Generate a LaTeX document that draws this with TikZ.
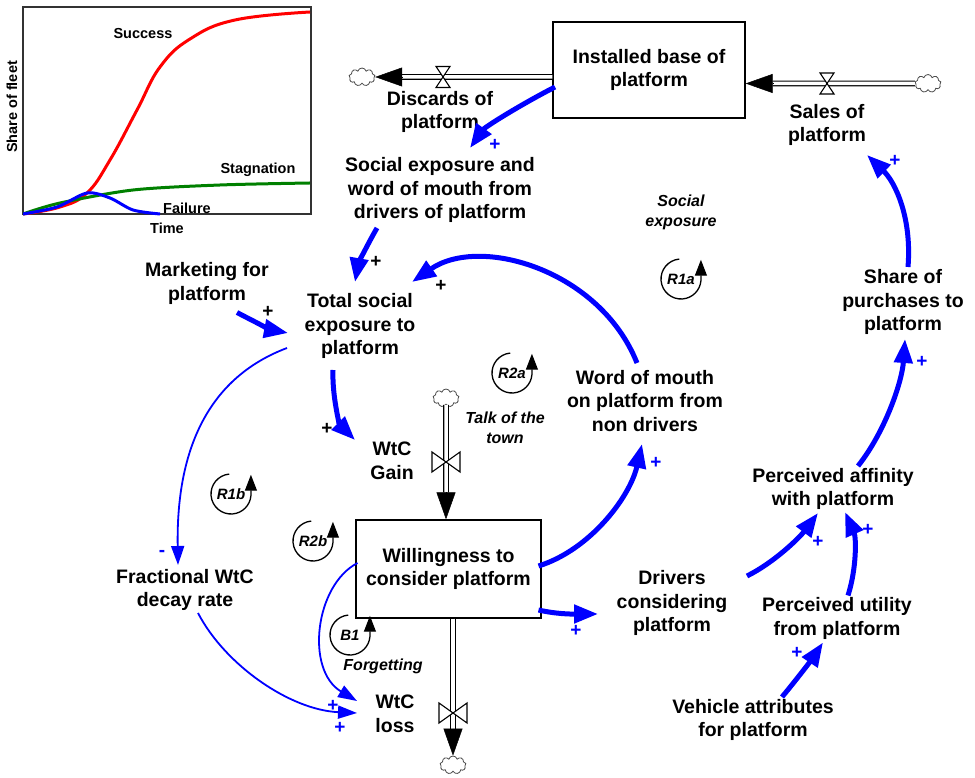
\documentclass[tikz,border=0pt]{standalone}
\usepackage{fontspec}
\setmainfont{Liberation Sans}
\usetikzlibrary{arrows.meta,calc,positioning,shapes.symbols}

\begin{document}
\begin{tikzpicture}[
x=1pt,y=1pt,
var/.style={align=center,inner sep=2pt,font=\bfseries\fontsize{19.5}{23.5}\selectfont},
stock/.style={var,draw,line width=1.3pt,minimum width=192pt,minimum height=96pt},
note/.style={align=center,font=\bfseries\itshape\fontsize{16}{20}\selectfont},
small/.style={font=\bfseries\fontsize{14.5}{17}\selectfont},
sign/.style={inner sep=0pt,font=\bfseries\fontsize{19}{19}\selectfont},
link/.style={blue,line width=5pt,-{Triangle[length=24pt,width=18pt]}},
thinlink/.style={blue,line width=1.8pt,-{Triangle[length=19pt,width=13pt]}},
pipe/.style={double,double distance=3.5pt,line width=1.2pt},
pipetip/.style={line width=0.5pt,-{Triangle[length=27pt,width=19pt]}},
sink/.style={cloud,cloud puffs=9,draw=black!70,line width=0.8pt,fill=white,minimum width=26pt,minimum height=18pt,inner sep=0pt},
hvalve/.pic={\draw[line width=1.1pt,fill=white] (-7,10.5) -- (7,10.5) -- (-7,-10.5) -- (7,-10.5) -- cycle;},
vvalve/.pic={\draw[line width=1.1pt,fill=white] (-14,10) -- (-14,-10) -- (14,10) -- (14,-10) -- cycle;},
loopsign/.pic={
  \draw[line width=1.3pt,-{Triangle[length=16pt,width=12pt]}] (95:20) arc[start angle=95,end angle=355,radius=20pt] -- ++(0,21);
  \node[font=\bfseries\itshape\fontsize{15}{15}\selectfont] (-lbl) {#1};},
]
\useasboundingbox (0,0) rectangle (975,777);

% inset
\draw[line width=1.5pt,black!80] (23,563) rectangle (311,770);
\draw[red,line width=3pt] plot[smooth,tension=0.7] coordinates {(23,563) (60,570) (87,584) (110,617) (137,667) (160,710) (190,738) (235,757) (310,765)};
\draw[green!50!black,line width=3pt] plot[smooth] coordinates {(23,563) (60,574) (133,587) (220,592) (310,594)};
\draw[blue,line width=3pt] plot[smooth] coordinates {(23,563) (57,570) (87,584) (110,579) (133,567) (160,563)};
\node[small] (succ) at (143,743) {Success};
\node[small] (stag) at (258,607) {Stagnation};
\node[small] (fail) at (187,569) {Failure};
\node[small] (time) at (167,549) {Time};
\node[small,rotate=90] (fleet) at (12,670) {Share of fleet};

% stocks
\node[stock] (ib) at (649,707) {Installed base of\\platform};
\node[stock,minimum width=185pt,minimum height=98pt] (wp) at (448.5,208) {Willingness to\\consider platform};

% sources and sinks
\node[sink] (cL) at (362,700) {};
\node[sink] (cR) at (928,693.5) {};
\node[sink] (cT) at (446,379) {};
\node[sink] (cB) at (453,12) {};

% flows
\draw[pipe] ($(ib.west)+(0,-7)$) -- ($(cL.east)+(27,0)$);
\draw[pipetip] ($(cL.east)+(27,0)$) -- (cL.east);
\draw[pipe] (cR.west) -- ($(ib.east)+(27,-13.5)$);
\draw[pipetip] ($(ib.east)+(27,-13.5)$) -- ($(ib.east)+(0,-13.5)$);
\draw[pipe] (cT.south) -- ($(wp.north -| cT)+(0,27)$);
\draw[pipetip] ($(wp.north -| cT)+(0,27)$) -- (wp.north -| cT);
\draw[pipe] (wp.south -| cB) -- ($(cB.north)+(0,27)$);
\draw[pipetip] ($(cB.north)+(0,27)$) -- (cB.north);
\pic at (443,700) {hvalve};
\pic at (827,693.5) {hvalve};
\pic at (446,315) {vvalve};
\pic at (453,64) {vvalve};

% variables
\node[var] (dis) at (440,665) {Discards of\\platform};
\node[var] (sal) at (827,652) {Sales of\\platform};
\node[var] (sew) at (440,587) {Social exposure and\\word of mouth from\\drivers of platform};
\node[var] (mkt) at (207,493.5) {Marketing for\\platform};
\node[var] (tse) at (360,451) {Total social\\exposure to\\platform};
\node[var] (gain) at (392,316) {WtC\\Gain};
\node[var] (loss) at (395,63) {WtC\\loss};
\node[var] (frac) at (185,187) {Fractional WtC\\decay rate};
\node[var] (wom) at (645,376) {Word of mouth\\on platform from\\non drivers};
\node[var] (drv) at (672,174) {Drivers\\considering\\platform};
\node[var] (aff) at (833,288) {Perceived affinity\\with platform};
\node[var] (util) at (837,158.5) {Perceived utility\\from platform};
\node[var] (veh) at (753,57) {Vehicle attributes\\for platform};
\node[var] (shr) at (903,475) {Share of\\purchases to\\platform};

\node[note] (socexp) at (681,565) {Social\\exposure};
\node[note] (talk) at (505,349) {Talk of the\\town};
\node[note] (forg) at (383,111) {Forgetting};

% loops
\pic (r1a) at (681,498) {loopsign=R1a};
\pic (r2a) at (512,404) {loopsign=R2a};
\pic (r1b) at (231,283) {loopsign=R1b};
\pic (r2b) at (313,236) {loopsign=R2b};
\pic (b1) at (350,142) {loopsign=B1};

% links
\draw[link] ($(ib)+(-94,-17)$) .. controls (520,672) and (485,650) .. ($(sew)+(30,42)$);
\draw[link] ($(sew)+(-63,-38)$) .. controls (366,530) and (358,512) .. ($(tse)+(-5,44)$);
\draw[link] ($(mkt)+(30,-29)$) .. controls (255,455) and (272,447) .. ($(tse)+(-72,-7)$);
\draw[link] ($(wom)+(-8,38)$) .. controls (600,507) and (480,542) .. ($(tse)+(52,44)$);
\draw[link] ($(tse)+(-27,-44)$) .. controls (332,380) and (340,352) .. ($(gain)+(-37,21)$);
\draw[link] ($(wp)+(90,3)$) .. controls (590,227) and (630,280) .. ($(wom)+(-3,-43)$);
\draw[link] ($(wp)+(90,-41)$) .. controls (560,162) and (580,163) .. ($(drv)+(-74,-11)$);
\draw[link] ($(drv)+(75,27)$) .. controls (775,215) and (800,240) .. ($(aff)+(-15,-24)$);
\draw[link] ($(util)+(11,23)$) .. controls (857,210) and (856,240) .. ($(aff)+(12,-23)$);
\draw[link] ($(veh)+(29,23)$) .. controls (797,98) and (812,118) .. ($(util)+(-14,-24)$);
\draw[link] ($(aff)+(25,23)$) .. controls (885,345) and (902,395) .. ($(shr)+(2,-37)$);
\draw[link] ($(shr)+(5,35)$) .. controls (912,560) and (895,595) .. ($(sal)+(40,-30)$);
\draw[thinlink] ($(tse)+(-73,-22)$) .. controls (210,400) and (176,330) .. ($(frac)+(-7,25)$);
\draw[thinlink] ($(frac)+(13,-23)$) .. controls (225,112) and (290,67) .. ($(loss)+(-38,1)$);
\draw[thinlink] ($(wp)+(-91,6)$) .. controls (315,192) and (305,107) .. ($(loss)+(-38,13)$);

% polarities
\node[sign] (p1) at (376,515) {+};
\node[sign] (p2) at (268,465) {+};
\node[sign] (p3) at (441,491) {+};
\node[sign] (p4) at (327,348) {+};
\node[sign,blue] (p5) at (495,632) {+};
\node[sign,blue] (p6) at (656,314) {+};
\node[sign,blue] (p7) at (576,146) {+};
\node[sign,blue] (p8) at (818,235) {+};
\node[sign,blue] (p9) at (868,247) {+};
\node[sign,blue] (p10) at (797,124) {+};
\node[sign,blue] (p11) at (922,415) {+};
\node[sign,blue] (p12) at (895,616) {+};
\node[sign,blue] (p13) at (333,71) {+};
\node[sign,blue] (p14) at (340,49) {+};
\node[sign,blue] (m1) at (162,224) {-};
\end{tikzpicture}
\end{document}
